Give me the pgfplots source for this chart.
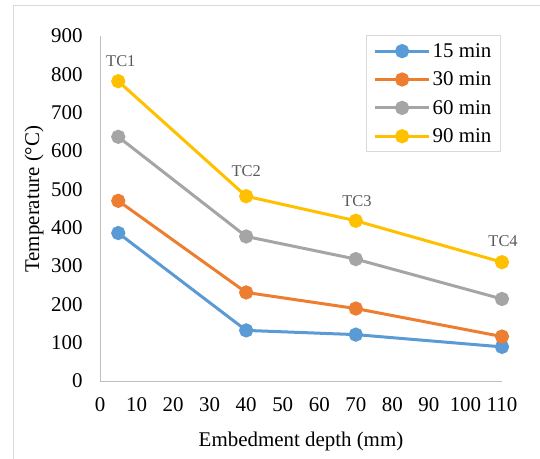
\documentclass[border=0pt]{standalone}
\usepackage{pgfplots}
\pgfplotsset{compat=1.18}
\usepackage{fontspec}
\setmainfont{Liberation Serif}
\definecolor{c15}{HTML}{5B9BD5}
\definecolor{c30}{HTML}{ED7D31}
\definecolor{c60}{HTML}{A5A5A5}
\definecolor{c90}{HTML}{FFC000}
\definecolor{axgray}{HTML}{BFBFBF}
\definecolor{tcgray}{HTML}{595959}
\begin{document}
\begin{tikzpicture}
\useasboundingbox (-100bp,-78bp) rectangle (440bp,381bp);
\draw[color=black!15, line width=1bp] (-86bp,-80bp) rectangle (442bp,375bp);
\begin{axis}[
  at={(0,0)}, anchor=south west,
  scale only axis, width=402bp, height=345bp,
  xmin=0, xmax=110, ymin=0, ymax=900,
  clip=false,
  xtick={0,10,...,110}, ytick={0,100,...,900},
  axis x line*=bottom, axis y line*=left,
  axis line style={draw=axgray, line width=0.9bp, -},
  major tick length=0pt,
  tick label style={font=\fontsize{21}{24}\selectfont},
  /pgf/number format/assume math mode=true,
  yticklabel style={anchor=east, xshift=-14bp},
  xticklabel style={anchor=north, yshift=-13bp},
  xlabel={Embedment depth (mm)},
  ylabel={Temperature (°C)},
  label style={font=\fontsize{21}{24}\selectfont},
  xlabel style={at={(axis description cs:0.5,0)}, anchor=center, yshift=-60bp},
  ylabel style={at={(axis description cs:0,0.527)}, anchor=center, yshift=66bp},
  every axis plot/.append style={line width=3bp, mark=*, mark size=5.6bp},
  legend style={at={(0.662,1.003)}, anchor=north west, draw=black!15, line width=1bp,
    font=\fontsize{21}{24}\selectfont, row sep=9bp, inner xsep=7bp, inner ysep=6bp},
  legend cell align=left,
  legend image code/.code={\draw[mark repeat=2,mark phase=2,#1] plot coordinates {(0bp,0bp)(27bp,0bp)(54bp,0bp)};},
]
\addplot[color=c15, mark options={fill=c15, draw=c15}] coordinates {(5,386) (40,132) (70,121) (110,89)};
\addplot[color=c30, mark options={fill=c30, draw=c30}] coordinates {(5,470) (40,231) (70,189) (110,116)};
\addplot[color=c60, mark options={fill=c60, draw=c60}] coordinates {(5,637) (40,377) (70,318) (110,214)};
\addplot[color=c90, mark options={fill=c90, draw=c90}] coordinates {(5,782) (40,482) (70,418) (110,310)};
\legend{15 min, 30 min, 60 min, 90 min}
\node[text=tcgray, font=\fontsize{16.5}{19}\selectfont] at (axis cs:5.7,835) {TC1};
\node[text=tcgray, font=\fontsize{16.5}{19}\selectfont] at (axis cs:40,548) {TC2};
\node[text=tcgray, font=\fontsize{16.5}{19}\selectfont] at (axis cs:70.3,470) {TC3};
\node[text=tcgray, font=\fontsize{16.5}{19}\selectfont] at (axis cs:110.3,365) {TC4};
\end{axis}
\end{tikzpicture}
\end{document}
